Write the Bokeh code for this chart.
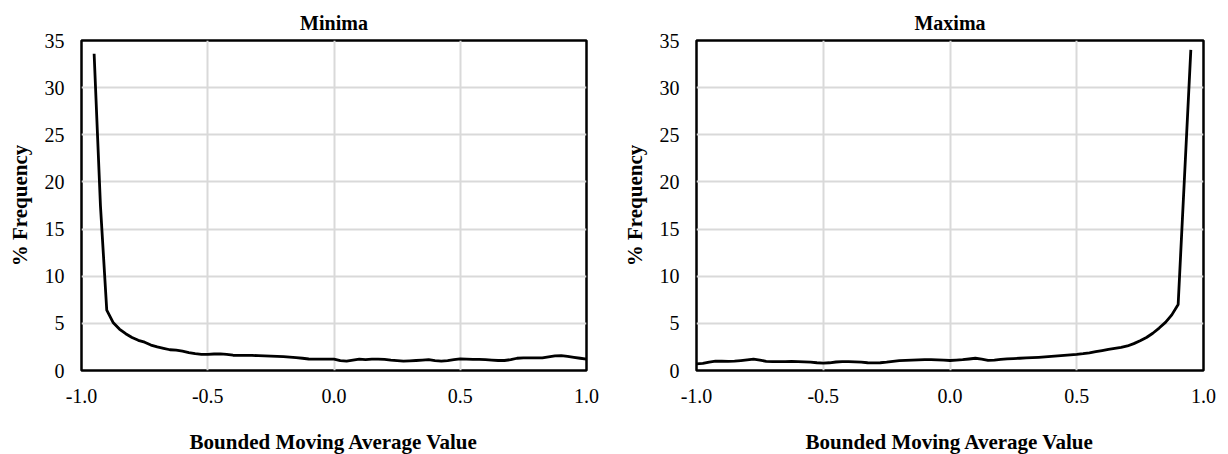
from bokeh.plotting import figure
from bokeh.layouts import row
from bokeh.models import FixedTicker, NumeralTickFormatter, Range1d
from bokeh.embed import file_html
from bokeh.resources import INLINE

# ---- data ----
min_x = [-0.95, -0.925, -0.9, -0.875, -0.85, -0.825, -0.8, -0.775, -0.75, -0.725,
         -0.7, -0.675, -0.65, -0.625, -0.6, -0.575, -0.55, -0.525, -0.5, -0.475,
         -0.45, -0.425, -0.4, -0.375, -0.35, -0.325, -0.3, -0.275, -0.25, -0.225,
         -0.2, -0.175, -0.15, -0.125, -0.1, -0.075, -0.05, -0.025, 0.0, 0.025,
         0.05, 0.075, 0.1, 0.125, 0.15, 0.175, 0.2, 0.225, 0.25, 0.275,
         0.3, 0.325, 0.35, 0.375, 0.4, 0.425, 0.45, 0.475, 0.5, 0.525,
         0.55, 0.575, 0.6, 0.625, 0.65, 0.675, 0.7, 0.725, 0.75, 0.775,
         0.8, 0.825, 0.85, 0.875, 0.9, 0.925, 0.95, 0.975, 1.0]
min_y = [33.6, 17.5, 6.4, 5.1, 4.4, 3.9, 3.5, 3.2, 3.0, 2.7,
         2.5, 2.35, 2.2, 2.15, 2.05, 1.9, 1.78, 1.72, 1.70, 1.75,
         1.77, 1.70, 1.62, 1.60, 1.60, 1.60, 1.57, 1.55, 1.52, 1.50,
         1.47, 1.42, 1.36, 1.30, 1.22, 1.20, 1.20, 1.20, 1.20, 1.05,
         1.00, 1.10, 1.20, 1.15, 1.20, 1.20, 1.18, 1.10, 1.05, 0.99,
         1.03, 1.06, 1.10, 1.15, 1.05, 1.00, 1.05, 1.15, 1.24, 1.20,
         1.17, 1.17, 1.15, 1.10, 1.06, 1.06, 1.15, 1.30, 1.34, 1.34,
         1.33, 1.34, 1.45, 1.55, 1.58, 1.50, 1.40, 1.30, 1.20]

max_x = [-1.0, -0.975, -0.95, -0.925, -0.9, -0.875, -0.85, -0.825, -0.8, -0.775,
         -0.75, -0.725, -0.7, -0.675, -0.65, -0.625, -0.6, -0.575, -0.55, -0.525,
         -0.5, -0.475, -0.45, -0.425, -0.4, -0.375, -0.35, -0.325, -0.3, -0.275,
         -0.25, -0.225, -0.2, -0.175, -0.15, -0.125, -0.1, -0.075, -0.05, -0.025,
         0.0, 0.025, 0.05, 0.075, 0.1, 0.125, 0.15, 0.175, 0.2, 0.225,
         0.25, 0.275, 0.3, 0.325, 0.35, 0.375, 0.4, 0.425, 0.45, 0.475,
         0.5, 0.525, 0.55, 0.575, 0.6, 0.625, 0.65, 0.675, 0.7, 0.725,
         0.75, 0.775, 0.8, 0.825, 0.85, 0.875, 0.9, 0.925, 0.95]
max_y = [0.70, 0.75, 0.90, 1.00, 0.98, 0.97, 0.99, 1.05, 1.12, 1.20,
         1.10, 0.97, 0.95, 0.95, 0.95, 0.96, 0.95, 0.92, 0.88, 0.82,
         0.78, 0.82, 0.90, 0.95, 0.95, 0.92, 0.88, 0.82, 0.80, 0.82,
         0.88, 0.97, 1.05, 1.08, 1.10, 1.12, 1.15, 1.15, 1.12, 1.10,
         1.06, 1.10, 1.15, 1.22, 1.30, 1.20, 1.08, 1.10, 1.18, 1.24,
         1.27, 1.30, 1.33, 1.36, 1.40, 1.45, 1.50, 1.55, 1.60, 1.65,
         1.70, 1.78, 1.88, 2.00, 2.12, 2.25, 2.35, 2.45, 2.60, 2.85,
         3.15, 3.50, 3.95, 4.50, 5.10, 5.90, 7.00, 20.5, 34.0]

titles = ["Minima", "Maxima"]
x_label = "Bounded Moving Average Value"
y_label = "% Frequency"
x_ticks = [-1.0, -0.5, 0.0, 0.5, 1.0]
y_ticks = [0, 5, 10, 15, 20, 25, 30, 35]

FONT = "Liberation Serif"


def make(title, xs, ys, border_left, border_right, frame_w):
    p = figure(frame_width=frame_w, frame_height=330,
               min_border_left=border_left, min_border_right=border_right,
               min_border_top=40, min_border_bottom=84,
               x_range=Range1d(-1.0, 1.0), y_range=Range1d(0, 35),
               output_backend="svg", toolbar_location=None, title=title)
    p.title.align = "center"
    p.title.text_font = FONT
    p.title.text_font_size = "20px"
    p.title.text_font_style = "bold"
    p.title.text_color = "black"
    p.title.standoff = 14

    p.outline_line_color = "black"
    p.outline_line_width = 2.5
    p.background_fill_color = "white"
    p.border_fill_color = "white"

    for ax in (p.xaxis[0], p.yaxis[0]):
        ax.axis_line_color = None
        ax.major_tick_line_color = None
        ax.minor_tick_line_color = None
        ax.major_label_text_font = FONT
        ax.major_label_text_font_size = "20px"
        ax.major_label_text_color = "black"
        ax.axis_label_text_font = FONT
        ax.axis_label_text_font_size = "21px"
        ax.axis_label_text_font_style = "bold"
        ax.axis_label_text_color = "black"

    p.xaxis.ticker = FixedTicker(ticks=x_ticks)
    p.xaxis.formatter = NumeralTickFormatter(format="0.0")
    p.yaxis.ticker = FixedTicker(ticks=y_ticks)
    p.xaxis.axis_label = x_label
    p.yaxis.axis_label = y_label
    p.xaxis.major_label_standoff = 12
    p.xaxis.axis_label_standoff = 24
    p.yaxis.major_label_standoff = 11
    p.yaxis.axis_label_standoff = 10

    p.xgrid.grid_line_color = "#d9d9d9"
    p.ygrid.grid_line_color = "#d9d9d9"
    p.xgrid.grid_line_width = 2
    p.ygrid.grid_line_width = 2

    p.line(xs, ys, line_color="black", line_width=2.8, line_join="round")
    return p


p1 = make(titles[0], min_x, min_y, 81, 28, 505)
p2 = make(titles[1], max_x, max_y, 82, 25, 507)
layout = row(p1, p2)

open("out.html", "w").write(file_html(layout, INLINE))
